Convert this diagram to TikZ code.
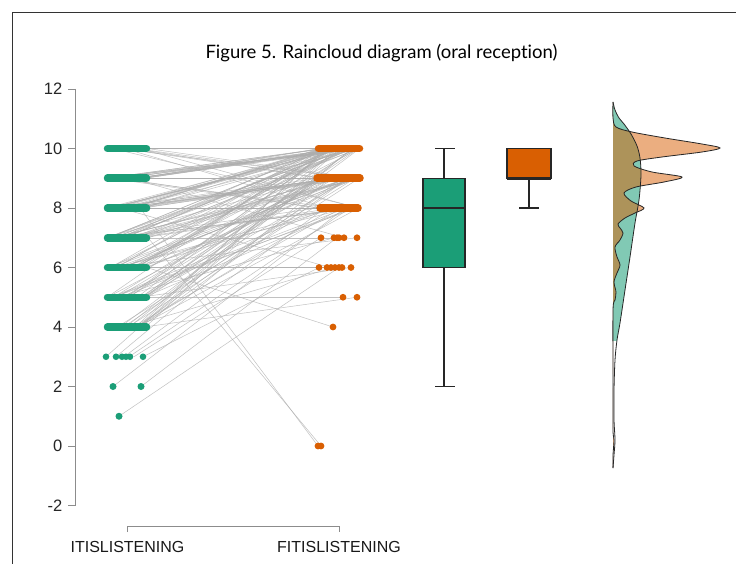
\documentclass[tikz,border=0pt]{standalone}
\usepackage{fontspec}
\setmainfont{Liberation Sans}
\newfontfamily\titlefont[Ligatures=NoCommon]{Lato}
\definecolor{dkgreen}{HTML}{1B9E77}
\definecolor{dkorange}{HTML}{D95F02}
\begin{document}
\begin{tikzpicture}[x=1pt,y=-1pt,
  declare function={Y(\v)=446-29.75*\v;},
  conn/.style={draw=black!32, line width=0.5pt, opacity=0.75},
  axisline/.style={draw=black!45, line width=0.7pt},
  boxline/.style={draw=black!85, line width=1.2pt},
  ticklab/.style={anchor=east, inner sep=0pt, text=black!85, font=\fontsize{16.5}{18}\selectfont},
  xlab/.style={inner sep=0pt, text=black!90, font=\fontsize{16}{18}\selectfont},
  gdot/.style={fill=dkgreen},
  odot/.style={fill=dkorange},
  gbar/.style={draw=dkgreen, line width=7.5pt, line cap=round},
  obar/.style={draw=dkorange, line width=7.5pt, line cap=round},
  dens/.style={draw=black!85, line width=0.8pt}
]
\useasboundingbox (0,0) rectangle (736,564);
\fill[white] (0,0) rectangle (736,564);
% frame
\draw[black!80, line width=1.3pt] (12.5,564) -- (12.5,12.5) -- (736,12.5);
% title
\node[inner sep=0pt] (title) at (381.5,53) {\titlefont\fontsize{18.5}{22}\selectfont Figure 5. Raincloud diagram (oral reception)};
% y axis
\draw[axisline] (75,{Y(12)}) -- (75,{Y(-2)});
\foreach \v in {-2,0,2,4,6,8,10,12}{
  \draw[axisline] (75,{Y(\v)}) -- (68,{Y(\v)});
  \node[ticklab] (t\v) at (62.5,{Y(\v)}) {\v};
}
% bracket and labels
\draw[axisline] (127,532) -- (127,526) -- (339,526) -- (339,532);
\node[xlab] (lab1) at (127.5,547) {ITISLISTENING};
\node[xlab] (lab2) at (339,547) {FITISLISTENING};
% connecting lines
\pgfmathsetseed{7}
\foreach \a/\b/\n in {10/10/20,10/9/5,10/8/3,9/10/16,9/9/9,9/8/3,8/10/15,8/9/11,8/8/5,7/10/14,7/9/9,7/8/5,6/10/12,6/9/8,6/8/3,5/10/8,5/9/8,5/8/5,4/10/6,4/9/6,4/8/3}{
  \foreach \i in {1,...,\n}{
    \pgfmathsetmacro\xl{105+44*rnd}
    \pgfmathsetmacro\xr{317+44*rnd}
    \draw[conn] (\xl,{Y(\a)}) -- (\xr,{Y(\b)});
  }
}
\foreach \xl/\a/\xr/\b in {130/9/344/7,120/8/330/6,140/8/318/0,125/7/339/7,148/7/321/0,110/6/357/7,135/6/326/6,145/6/342/6,147/6/333/4,118/5/334/7,140/5/351/6,146/5/343/5,128/4/334/6,144/4/357/5,106/3/340/10,116/3/330/9,124/3/325/8,129/3/350/8,134/3/321/7,143/3/319/6,113/2/345/8,141/2/337/7,119/1/339/6}{
  \draw[conn] (\xl,{Y(\a)}) -- (\xr,{Y(\b)});
}
% left dots
\foreach \v in {4,...,10}{\draw[gbar] (107.5,{Y(\v)}) -- (146.5,{Y(\v)});}
\foreach \x in {106,116,122,126,130,143}{\fill[gdot] (\x,{Y(3)}) circle[radius=3.3];}
\foreach \x in {113,141}{\fill[gdot] (\x,{Y(2)}) circle[radius=3.5];}
\fill[gdot] (119,{Y(1)}) circle[radius=3.5];
% right dots
\draw[obar] (318.5,{Y(10)}) -- (359.5,{Y(10)});
\draw[obar] (317,{Y(9)}) -- (360,{Y(9)});
\draw[obar] (320,{Y(8)}) -- (358,{Y(8)});
\foreach \x in {321,334,337,339,344,357}{\fill[odot] (\x,{Y(7)}) circle[radius=3.4];}
\foreach \x in {319,327,331,335,339,342,351}{\fill[odot] (\x,{Y(6)}) circle[radius=3.4];}
\foreach \x in {343,357}{\fill[odot] (\x,{Y(5)}) circle[radius=3.4];}
\fill[odot] (333,{Y(4)}) circle[radius=3.4];
\fill[odot] (318,{Y(0)}) circle[radius=3.4];
\fill[odot] (321,{Y(0)}) circle[radius=3.4];
% boxplots
\draw[boxline] (444,{Y(9)}) -- (444,{Y(10)}) (435,{Y(10)}) -- (455,{Y(10)});
\draw[boxline] (444,{Y(6)}) -- (444,{Y(2)}) (435,{Y(2)}) -- (455,{Y(2)});
\filldraw[boxline, fill=dkgreen] (423,{Y(9)}) rectangle (465,{Y(6)});
\draw[draw=black!85, line width=2.6pt] (423,{Y(8)}) -- (465,{Y(8)});
\draw[boxline] (529,{Y(9)}) -- (529,{Y(8)}) (519,{Y(8)}) -- (539,{Y(8)});
\filldraw[boxline, fill=dkorange] (507,{Y(10)}) rectangle (551,{Y(9)});
\draw[draw=black!85, line width=2.6pt] (507,{Y(9)}) -- (551,{Y(9)});
% densities
\def\greencurve{(613,102) (615,110) (619,118) (624,124) (631,134) (637,146) (640,158) (641,175) (639,200) (635,223) (630,257) (625,290) (620,323) (617,340) (615,360) (614,390) (614,420) (615,440) (614,455) (613,468)}
\def\orangecurve{(613,102) (613,118) (616,127) (632,132) (665,138) (702,144) (720,148) (702,152) (662,157) (637,161) (634,166) (652,172) (682,177) (664,182) (636,187) (624,193) (631,201) (644,208) (635,213) (625,218) (618,224) (620,228) (623,233) (620,240) (615,247) (617,257) (620,265) (617,273) (614,282) (616,292) (615,300) (613,310) (613,380) (613,430) (614,440) (613,455) (613,468)}
\begin{scope}
  \clip (600,90) rectangle (736,340);
  \fill[dkgreen, opacity=0.55] plot[smooth, tension=0.5] coordinates \greencurve -- cycle;
\end{scope}
\fill[dkorange, opacity=0.5] plot[smooth, tension=0.5] coordinates \orangecurve -- cycle;
\draw[dens] plot[smooth, tension=0.5] coordinates \greencurve;
\draw[dens] plot[smooth, tension=0.5] coordinates \orangecurve;
\end{tikzpicture}
\end{document}
